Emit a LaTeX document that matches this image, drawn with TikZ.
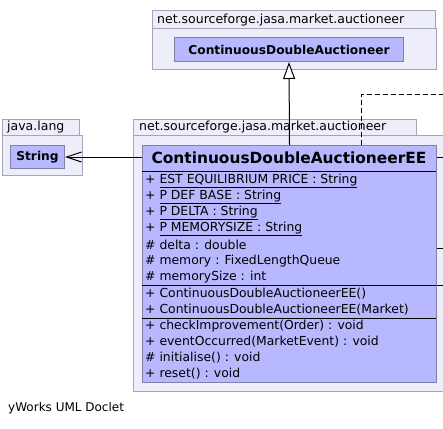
\documentclass[tikz,border=0pt]{standalone}
\usepackage{fontspec}
\setmainfont{DejaVu Sans}
\usetikzlibrary{arrows.meta,positioning}

\definecolor{pkgfill}{RGB}{238,238,250}
\definecolor{pkgline}{RGB}{164,164,184}
\definecolor{clsfill}{RGB}{184,184,255}
\definecolor{clsline}{RGB}{128,128,170}

\tikzset{
	pkg/.style={draw=pkgline, fill=pkgfill, line width=1pt},
	pkglabel/.style={anchor=west, inner sep=0pt, font=\fontsize{12.5}{14}\selectfont},
	cls/.style={draw=clsline, fill=clsfill, line width=1pt, anchor=north west, inner sep=0pt},
	member/.style={anchor=west, inner sep=0pt, font=\fontsize{12.4}{14}\selectfont},
	stub/.style={line width=1pt},
}

\begin{document}
\begin{tikzpicture}[x=1pt,y=-1pt]
		\useasboundingbox (0,0) rectangle (443,428);
		
		% pacchetto superclasse
		\draw[pkg] (152,11) rectangle (435,29);
		\node[pkglabel] (pkgsuper) at (157,20) {net.sourceforge.jasa.market.auctioneer};
		\draw[pkg] (152,29) rectangle (436,69);
		\node[cls, minimum width=229pt, minimum height=24pt, font=\bfseries\fontsize{12.2}{14}\selectfont] (super) at (174,37) {ContinuousDoubleAuctioneer};
		
		% pacchetto java.lang
		\draw[pkg] (2,119) rectangle (79,135);
		\node[pkglabel] (pkglang) at (7,127) {java.lang};
		\draw[pkg] (2,135) rectangle (82,175);
		\node[cls, minimum width=54pt, minimum height=23pt, font=\bfseries\fontsize{12.2}{14}\selectfont] (string) at (10,145) {String};
		
		% pacchetto della classe
		\draw[pkg] (133,119) rectangle (416,135);
		\node[pkglabel] (pkgee) at (139,127) {net.sourceforge.jasa.market.auctioneer};
		\draw[pkg] (133,135) rectangle (450,391);
		
		% classe
		\node[cls, minimum width=294pt, minimum height=237pt] (ee) at (142,145) {};
		\node[font=\bfseries\fontsize{15.4}{18}\selectfont] (eename) at (289,158) {ContinuousDoubleAuctioneerEE};
		\draw[line width=1pt] (142,171) -- (436,171);
		\draw[line width=1pt] (142,285) -- (436,285);
		\draw[line width=1pt] (142,318) -- (436,318);
		
		%attributi
		\foreach \t [count=\i] in {+ \underline{EST EQUILIBRIUM PRICE : String},
				+ \underline{P DEF BASE : String},
				+ \underline{P DELTA : String},
				+ \underline{P MEMORYSIZE : String},
				\# delta : double,
				\# memory : FixedLengthQueue,
				\# memorySize : int}
			\node[member] (attr\i) at (145,165+16*\i) {\t};
		%costruttori
		\foreach \t [count=\i] in {+ ContinuousDoubleAuctioneerEE(),
				+ ContinuousDoubleAuctioneerEE(Market)}
			\node[member] (ctor\i) at (145,278+16*\i) {\t};
		%metodi
		\foreach \t [count=\i] in {+ checkImprovement(Order) : void,
				+ eventOccurred(MarketEvent) : void,
				\# initialise() : void,
				+ reset() : void}
			\node[member] (meth\i) at (145,310+16*\i) {\t};
		
		% ereditarieta
		\draw[line width=1pt, -{Triangle[length=17pt, width=12pt, fill=white]}] (ee.north) -- (super.south);
		% dipendenza
		\draw[line width=1pt, -{Straight Barb[length=15pt, width=10pt]}] (ee.west |- string.east) -- (string.east);
		
		% archi uscenti
		\coordinate (outa) at (443,94);
		\coordinate (outb) at (443,157);
		\coordinate (outc) at (443,248);
		\coordinate (outd) at (443,285);
		\draw[line width=1pt, dash pattern=on 5pt off 3pt] ([xshift=72pt]ee.north) |- (outa);
		\draw[stub] (ee.east |- outb) -- (outb);
		\draw[stub] (ee.east |- outc) -- (outc);
		\draw[stub] (ee.east |- outd) -- (outd);
		
		\node[anchor=west, inner sep=0pt, font=\fontsize{12}{14}\selectfont] (doclet) at (8,408) {yWorks UML Doclet};
	\end{tikzpicture}
\end{document}
